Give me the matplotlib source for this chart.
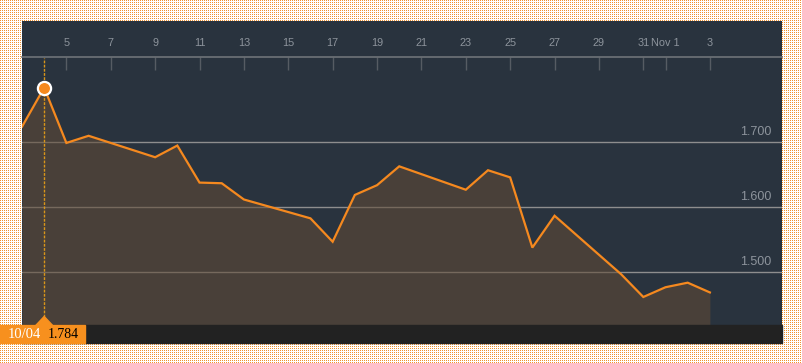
import numpy as np
import pandas as pd
import matplotlib
matplotlib.use("Agg")
import matplotlib.pyplot as plt
import matplotlib.dates as mdates
import matplotlib.transforms as mtransforms
from matplotlib.patches import Rectangle, Polygon

# ---------------- data ----------------
dates = ["2017-10-03", "2017-10-04", "2017-10-05", "2017-10-06", "2017-10-09",
         "2017-10-10", "2017-10-11", "2017-10-12", "2017-10-13", "2017-10-16",
         "2017-10-17", "2017-10-18", "2017-10-19", "2017-10-20", "2017-10-23",
         "2017-10-24", "2017-10-25", "2017-10-26", "2017-10-27", "2017-10-30",
         "2017-10-31", "2017-11-01", "2017-11-02", "2017-11-03"]
values = [1.724, 1.784, 1.699, 1.710, 1.677,
          1.695, 1.638, 1.637, 1.612, 1.583,
          1.547, 1.619, 1.634, 1.663, 1.627,
          1.657, 1.646, 1.538, 1.587, 1.497,
          1.462, 1.477, 1.484, 1.469]
tick_dates = ["2017-10-05", "2017-10-07", "2017-10-09", "2017-10-11", "2017-10-13",
              "2017-10-15", "2017-10-17", "2017-10-19", "2017-10-21", "2017-10-23",
              "2017-10-25", "2017-10-27", "2017-10-29", "2017-10-31", "2017-11-01",
              "2017-11-03"]
tick_labels = ["5", "7", "9", "11", "13", "15", "17", "19", "21", "23",
               "25", "27", "29", "31", "Nov 1", "3"]
y_ticks = [1.5, 1.6, 1.7]
y_tick_labels = ["1.500", "1.600", "1.700"]
highlight_date = "2017-10-04"
highlight_value = 1.784
highlight_label = "10/04"

x = pd.to_datetime(dates)
xt = pd.to_datetime(tick_dates)
xh = pd.Timestamp(highlight_date)

# ---------------- figure ----------------
W, H = 802, 363
DPI = 100
fig = plt.figure(figsize=(W / DPI, H / DPI), dpi=DPI, facecolor="white")

# dotted orange background pattern
bg = np.ones((H, W, 3))
bg[::2, ::2] = np.array([240, 146, 48]) / 255.0
bgim = fig.figimage(bg, xo=0, yo=0, origin="upper", zorder=0, resize=False)
bgim.set_interpolation("none")
bgim.set_resample(False)

def fx(px):
    return px / W

def fy(py):
    return (H - py) / H

panel_l, panel_r, panel_t, plot_b, bar_b = 22, 782, 21, 325, 343
ax = fig.add_axes([fx(panel_l), fy(plot_b), (panel_r - panel_l) / W, (plot_b - panel_t) / H])
ax.set_facecolor("#29333e")
ax.set_zorder(2)

ymin, ymax = 1.4189, 1.8866
ax.set_xlim(pd.Timestamp("2017-10-03"), pd.Timestamp("2017-11-06 06:00"))
ax.set_ylim(ymin, ymax)

ax.set_axisbelow(True)
ax.set_yticks(y_ticks)
ax.grid(axis="y", color="#8e8e8e", lw=1)
ax.grid(axis="x", visible=False)
ax.tick_params(axis="y", length=0, labelleft=False, labelright=False)

ax.fill_between(x, values, ymin, color="#644c36", alpha=0.55, lw=0, zorder=1)
ax.plot(x, values, color="#f5891f", lw=1.6, zorder=3, solid_joinstyle="miter")

for v, lab in zip(y_ticks, y_tick_labels):
    ax.annotate(lab, xy=(1, v), xycoords=("axes fraction", "data"),
                xytext=(-7.9, 7.4), textcoords="offset points",
                ha="right", va="center", color="#8d949c", fontsize=9,
                family="Liberation Sans")

# top date axis
for s in ["left", "right", "bottom"]:
    ax.spines[s].set_visible(False)
ax.spines["top"].set_position(("axes", (plot_b - 57.3) / (plot_b - panel_t)))
ax.spines["top"].set_color("#6e7378")
ax.spines["top"].set_linewidth(1.2)
ax.xaxis.set_ticks_position("top")
ax.set_xticks(xt)
ax.set_xticklabels(tick_labels, family="Liberation Sans")
ax.tick_params(axis="x", direction="in", length=9, width=1, color="#565c63",
               labelcolor="#8d949c", labelsize=7.8, pad=6.5)

# highlight
axfrac = lambda py: (plot_b - py) / (plot_b - panel_t)
ax.axvline(xh, ymin=axfrac(317), ymax=axfrac(58), color="#d9961a", lw=1,
           ls=(0, (2, 1)), zorder=2)
ax.plot([xh], [highlight_value], "o", ms=9.5, mfc="#f5891f", mec="white",
        mew=1.6, zorder=5, clip_on=False)

# bottom bar
fig.add_artist(Rectangle((fx(panel_l), fy(bar_b)), (panel_r - panel_l) / W,
                         (bar_b - plot_b) / H, transform=fig.transFigure,
                         color="#222222", zorder=3))
fig.add_artist(Rectangle((0, fy(bar_b)), 85 / W, (bar_b - plot_b) / H,
                         transform=fig.transFigure, color="#f7901e", zorder=4))
blend = mtransforms.blended_transform_factory(ax.transData, fig.transFigure)
tri_t = fig.dpi_scale_trans + mtransforms.ScaledTranslation(
    mdates.date2num(xh), fy(plot_b), blend)
fig.add_artist(Polygon([(-0.085, -0.005), (0.085, -0.005), (0, 0.085)],
                       closed=True, transform=tri_t, color="#f7901e", zorder=4))
fig.text(fx(8), fy(334), highlight_label, color="white", fontsize=10.5,
         family="Liberation Serif", va="center", ha="left", zorder=5)
fig.text(fx(48), fy(334), f"{highlight_value:.3f}", color="black", fontsize=10,
         family="Liberation Serif", va="center", ha="left", zorder=5)

fig.savefig("out.png", dpi=DPI, facecolor="white")
